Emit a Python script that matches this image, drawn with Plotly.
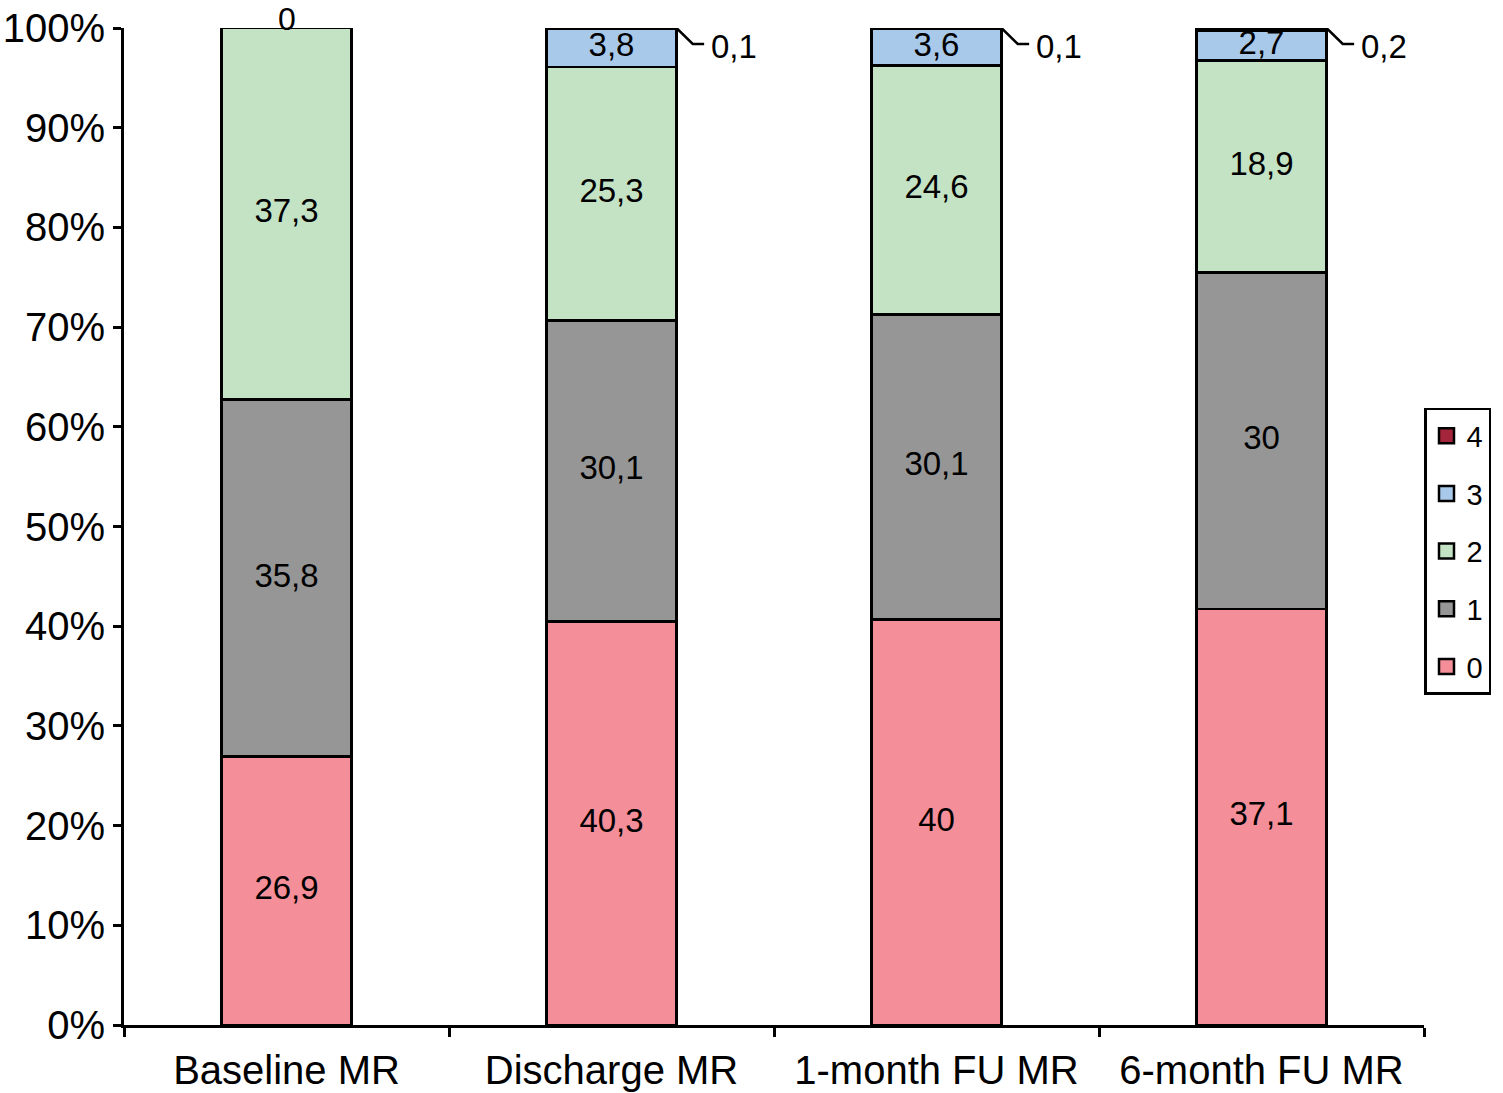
import numpy as np
import plotly.graph_objects as go

categories = ["Baseline MR", "Discharge MR", "1-month FU MR", "6-month FU MR"]
grade_names = ["0", "1", "2", "3", "4"]
mr0 = [26.9, 40.3, 40.0, 37.1]
mr1 = [35.8, 30.1, 30.1, 30.0]
mr2 = [37.3, 25.3, 24.6, 18.9]
mr3 = [0.0, 3.8, 3.6, 2.7]
mr4 = [None, 0.1, 0.1, 0.2]
label_text = {
    "0": ["26,9", "40,3", "40", "37,1"],
    "1": ["35,8", "30,1", "30,1", "30"],
    "2": ["37,3", "25,3", "24,6", "18,9"],
    "3": ["0", "3,8", "3,6", "2,7"],
    "4": ["", "0,1", "0,1", "0,2"],
}
colors = ["#F48E98", "#969696", "#C4E3C4", "#A9C9EB", "#A3243B"]

series = [mr0, mr1, mr2, mr3, mr4]
arr = np.array([[np.nan if v is None else v for v in s] for s in series], dtype=float)
vals = np.nan_to_num(arr)
totals = vals.sum(axis=0)
norm = vals / totals * 100
cum_top = np.cumsum(norm, axis=0)
cum_bot = cum_top - norm

FONT = "Liberation Sans, Arial, sans-serif"
fig = go.Figure()
BAR_W = 0.4
for k, (name, s, c) in enumerate(zip(grade_names, series, colors)):
    fig.add_trace(go.Bar(
        x=categories, y=s, name=name, marker=dict(color=c, line=dict(color="black", width=2.8)),
        width=BAR_W, showlegend=False, hoverinfo="skip",
    ))

# legend entries (square swatches with black outline)
for k, (name, c) in enumerate(zip(grade_names, colors)):
    fig.add_trace(go.Scatter(
        x=[None], y=[None], mode="markers", name=name,
        marker=dict(symbol="square", size=15, color=c, line=dict(color="black", width=2.5)),
        legendgroup=name, legendrank=100 - k, showlegend=True, hoverinfo="skip",
    ))

# inside labels for grades 0-3
for k in range(4):
    name = grade_names[k]
    xs, ys, ts = [], [], []
    for i, cat in enumerate(categories):
        if np.isnan(arr[k, i]) or norm[k, i] == 0:
            continue
        xs.append(cat)
        ys.append((cum_top[k, i] + cum_bot[k, i]) / 2)
        ts.append(label_text[name][i])
    fig.add_trace(go.Scatter(x=xs, y=ys, text=ts, mode="text", showlegend=False,
                             textfont=dict(size=33, color="black", family=FONT),
                             hoverinfo="skip", cliponaxis=False))

# zero label for baseline grade 3 (sits on top of the bar)
for i, cat in enumerate(categories):
    if not np.isnan(arr[3, i]) and norm[3, i] == 0:
        fig.add_annotation(x=cat, y=cum_top[3, i], text=label_text["3"][i], showarrow=False,
                           yanchor="middle", yshift=9, font=dict(size=32, color="black", family=FONT))

# outside labels for grade 4 with leader lines
for i, cat in enumerate(categories):
    if np.isnan(arr[4, i]):
        continue
    x_edge = i + BAR_W / 2
    y_top = cum_top[4, i]
    y_elbow = y_top - 1.6
    fig.add_shape(type="path",
                  path=f"M {x_edge},{y_top} L {x_edge + 0.05},{y_elbow} L {x_edge + 0.085},{y_elbow}",
                  xref="x", yref="y", line=dict(color="black", width=2.5))
    fig.add_annotation(x=x_edge + 0.1, y=y_elbow, text=label_text["4"][i], showarrow=False,
                       xanchor="left", yanchor="middle", yshift=-3,
                       font=dict(size=33, color="black", family=FONT))

fig.update_layout(
    barmode="stack", barnorm="percent",
    width=1503, height=1093,
    margin=dict(l=124, r=79, t=28, b=68, autoexpand=False),
    plot_bgcolor="white", paper_bgcolor="white",
    font=dict(family=FONT, color="black"),
    showlegend=True,
    legend=dict(x=1.0, xanchor="left", y=0.619, yanchor="top",
                traceorder="grouped", tracegroupgap=17,
                bordercolor="black", borderwidth=2.5, bgcolor="white",
                font=dict(size=29, color="black", family=FONT),
                itemwidth=30),
    xaxis=dict(type="category", showline=True, linecolor="black", linewidth=2.8,
               ticks="outside", tickson="boundaries", ticklen=9, tickwidth=2.5, tickcolor="black",
               tickfont=dict(size=40, color="black", family=FONT), showgrid=False,
               ticklabelstandoff=8, ticklabeloverflow="allow",
               range=[-0.5, 3.5], automargin=False),
    yaxis=dict(range=[0, 100], dtick=10, ticksuffix="%", showline=True, linecolor="black",
               linewidth=2.8, ticks="outside", ticklen=8, tickwidth=2.5, tickcolor="black",
               tickfont=dict(size=40, color="black", family=FONT), showgrid=False, zeroline=False,
               ticklabeloverflow="allow", automargin=False),
)

fig.write_html("out.html", config={"displayModeBar": False},
               post_script="document.body.style.margin='0';")
